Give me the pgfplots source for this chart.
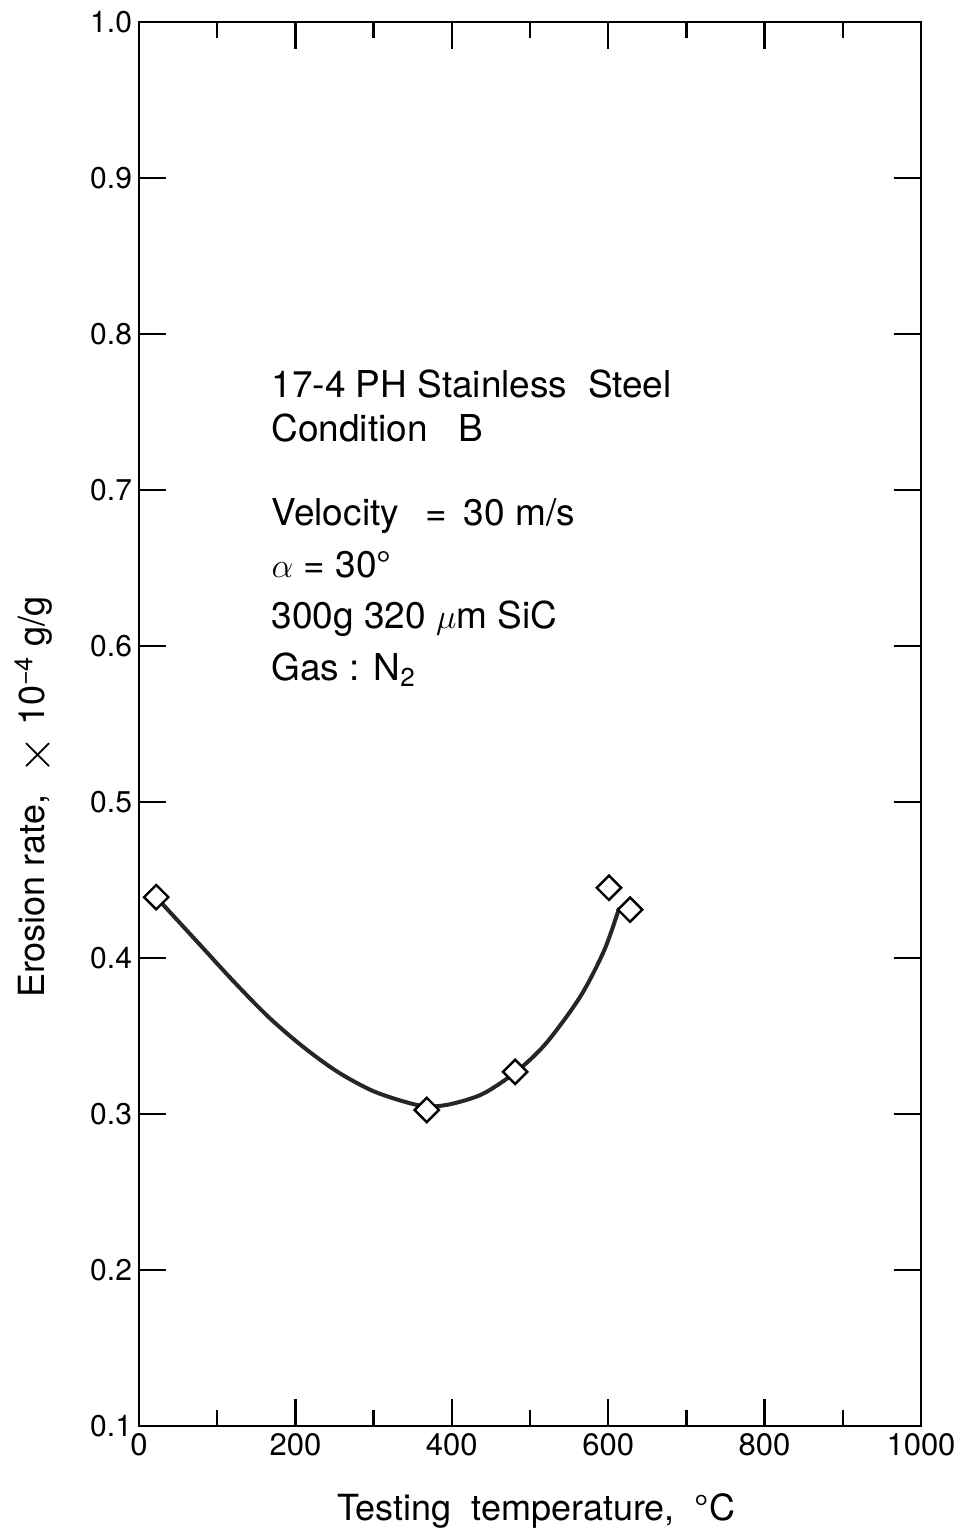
\documentclass[border=0pt]{standalone}
\usepackage{fontspec}
\setmainfont{TeX Gyre Heros}
\usepackage{pgfplots}
\pgfplotsset{compat=1.18}

\pgfplotstableread{
x y
22 0.439
368 0.3026
481 0.327
601 0.445
628 0.431
}\pts

\pgfplotstableread{
x y
22 0.439
77 0.409
121 0.385
166 0.362
210 0.343
254 0.327
298 0.315
340 0.3078
369 0.3048
400 0.3065
440 0.313
482 0.327
520 0.345
564 0.375
595 0.405
614 0.432
}\fit

\begin{document}
\begin{tikzpicture}
\begin{axis}[
  scale only axis,
  width=391pt, height=702pt,
  xmin=0, xmax=1000, ymin=0.1, ymax=1.0,
  xtick={0,200,...,1000},
  minor x tick num=1,
  ytick={0.1,0.2,0.3,0.4,0.5,0.6,0.7,0.8,0.9,1.0},
  tick align=inside,
  major tick length=13.5pt,
  minor tick length=8pt,
  axis line style={line width=1.4pt},
  every tick/.style={black, line width=1.2pt},
  /pgf/number format/assume math mode=true,
  xticklabel style={/pgf/number format/1000 sep={}, font=\fontsize{15.5}{18}\selectfont},
  yticklabel style={/pgf/number format/.cd, fixed, fixed zerofill, precision=1, /tikz/.cd, font=\fontsize{15}{18}\selectfont},
  xlabel={Testing\ \ temperature,\ \ °C},
  xlabel style={font=\fontsize{18}{21}\selectfont, at={(rel axis cs:0.508,0)}, anchor=base, yshift=-47pt},
  ylabel={Erosion rate,\ \ \raisebox{-0.15em}{\fontsize{27}{27}\selectfont$\times$}\ 10\textsuperscript{−4} g/g},
  ylabel style={font=\fontsize{18}{21}\selectfont, at={(rel axis cs:0,0.448)}, anchor=base, yshift=47pt},
  clip=false,
]
\coordinate (bl) at (rel axis cs:0,0);
\coordinate (tr) at (rel axis cs:1,1);
\addplot[smooth, line width=2pt, color=black!85] table {\fit};
\addplot[only marks, mark=square*, mark size=4.3pt,
  mark options={rotate=45, fill=white, draw=black, line width=1.2pt}] table {\pts};
\begin{scope}[every node/.style={anchor=base west, inner sep=0pt, font=\fontsize{18.5}{22}\selectfont}]
\node at (axis cs:169,0.759) {17-4 PH Stainless\ \ Steel};
\node at (axis cs:169,0.7314) {Condition\ \ \ B};
\node at (axis cs:169,0.677) {Velocity\ \ \,=\, 30 m/s};
\node at (axis cs:169,0.644) {$\alpha$ = 30°};
\node at (axis cs:169,0.6115) {300g 320 $\mu$m SiC};
\node at (axis cs:169,0.578) {Gas : N\textsubscript{2}};
\end{scope}
\end{axis}
\pgfresetboundingbox
\path ([shift={(-69.5pt,-53.5pt)}]bl) rectangle ([shift={(16.5pt,11pt)}]tr);
\end{tikzpicture}
\end{document}
